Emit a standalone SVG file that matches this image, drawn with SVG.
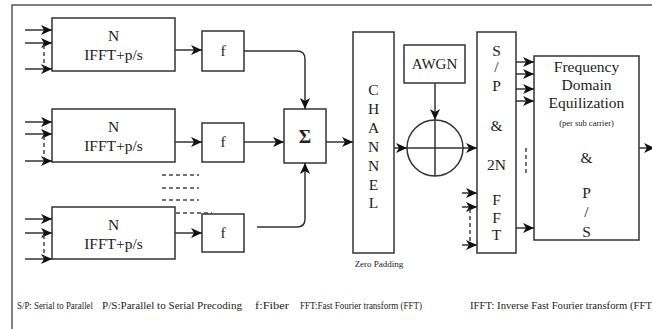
<svg xmlns="http://www.w3.org/2000/svg" width="652" height="329" viewBox="0 0 652 329">
<style>
.box{fill:#fff;stroke:#333;stroke-width:1.5}
.ln{fill:none;stroke:#333;stroke-width:1.5}
.dash{fill:none;stroke:#444;stroke-width:1.5;stroke-dasharray:4,3}
.t{font-family:"Liberation Serif","Times New Roman",serif;fill:#222;text-anchor:middle}
.m{font-size:15.5px}
.s{font-size:15.5px}
.leg{font-family:"Liberation Serif","Times New Roman",serif;font-size:9.5px;fill:#222}
</style>
<defs>
<marker id="ah" markerUnits="userSpaceOnUse" markerWidth="12" markerHeight="10" refX="11" refY="5" orient="auto">
<path d="M0,0 L11,5 L0,10 L3,5 z" fill="#111"/>
</marker>
</defs>
<rect width="652" height="329" fill="#fff"/>
<path d="M12,329 V5 H652" fill="none" stroke="#555" stroke-width="1.5"/>

<g id="ifft1">
<rect class="box" x="52" y="18" width="123" height="53"/>
<text class="t m" x="113.5" y="41">N</text>
<text class="t m" x="113.5" y="60">IFFT+p/s</text>
</g>
<g id="ifft2">
<rect class="box" x="52" y="109" width="123" height="53"/>
<text class="t m" x="113.5" y="132">N</text>
<text class="t m" x="113.5" y="151">IFFT+p/s</text>
</g>
<g id="ifft3">
<rect class="box" x="52" y="207" width="123" height="52"/>
<text class="t m" x="113.5" y="230">N</text>
<text class="t m" x="113.5" y="249">IFFT+p/s</text>
</g>
<g id="f1"><rect class="box" x="202" y="31" width="42" height="40"/><text class="t s" x="223" y="56">f</text></g>
<g id="f2"><rect class="box" x="202" y="123" width="42" height="39"/><text class="t s" x="223" y="147">f</text></g>
<g id="f3"><rect class="box" x="202" y="214" width="42" height="38"/><text class="t s" x="223" y="238">f</text></g>
<g id="sum"><rect class="box" x="284" y="109" width="42" height="54"/><text class="t" x="305" y="143" font-size="19" font-weight="bold">Σ</text></g>
<g id="channel">
<rect class="box" x="353" y="32" width="41" height="221"/>
<text class="t m" x="373.5" y="95">C</text>
<text class="t m" x="373.5" y="114">H</text>
<text class="t m" x="373.5" y="133">A</text>
<text class="t m" x="373.5" y="152">N</text>
<text class="t m" x="373.5" y="171">N</text>
<text class="t m" x="373.5" y="190">E</text>
<text class="t m" x="373.5" y="208">L</text>
<text class="t" x="379" y="267" font-size="9">Zero Padding</text>
</g>
<g id="awgn"><rect class="box" x="404" y="45" width="61" height="38"/><text class="t" x="434.5" y="69" font-size="15">AWGN</text></g>
<g id="adder">
<circle class="ln" cx="435" cy="148" r="28"/>
<line class="ln" x1="435" y1="120" x2="435" y2="176"/>
</g>
<g id="spfft">
<rect class="box" x="477" y="32" width="39" height="221"/>
<text class="t s" x="496.5" y="56">S</text>
<text class="t s" x="496.5" y="72">/</text>
<text class="t s" x="496.5" y="91">P</text>
<text class="t s" x="496.5" y="131">&amp;</text>
<text class="t s" x="496.5" y="170">2N</text>
<text class="t s" x="496.5" y="205">F</text>
<text class="t s" x="496.5" y="223">F</text>
<text class="t s" x="496.5" y="240">T</text>
</g>
<g id="fde">
<rect class="box" x="534" y="56" width="105" height="184"/>
<text class="t m" x="586.5" y="72">Frequency</text>
<text class="t m" x="586.5" y="90">Domain</text>
<text class="t m" x="586.5" y="108">Equilization</text>
<text class="t" x="586.5" y="126" font-size="8.5">(per sub carrier)</text>
<text class="t s" x="586.5" y="163">&amp;</text>
<text class="t s" x="586.5" y="198">P</text>
<text class="t s" x="586.5" y="217">/</text>
<text class="t s" x="586.5" y="237">S</text>
</g>

<g id="connectors">
<path class="ln" marker-end="url(#ah)" d="M25,30 H52"/>
<path class="ln" marker-end="url(#ah)" d="M25,43 H52"/>
<path class="ln" marker-end="url(#ah)" d="M25,69 H52"/>
<path class="dash" d="M44,45 V67"/>
<path class="ln" marker-end="url(#ah)" d="M25,122 H52"/>
<path class="ln" marker-end="url(#ah)" d="M25,134 H52"/>
<path class="ln" marker-end="url(#ah)" d="M25,161 H52"/>
<path class="dash" d="M44,136 V159"/>
<path class="ln" marker-end="url(#ah)" d="M25,219 H52"/>
<path class="ln" marker-end="url(#ah)" d="M25,233 H52"/>
<path class="ln" marker-end="url(#ah)" d="M25,259 H52"/>
<path class="dash" d="M44,235 V257"/>
<path class="ln" marker-end="url(#ah)" d="M175,50 H202"/>
<path class="ln" marker-end="url(#ah)" d="M175,142 H202"/>
<path class="ln" marker-end="url(#ah)" d="M175,233 H202"/>
<path class="dash" d="M162,175 H199 M162,188 H199 M162,200 H199 M176,213 H212"/>
<path class="ln" marker-end="url(#ah)" d="M244,51 H297 Q305,51 305,59 V109"/>
<path class="ln" marker-end="url(#ah)" d="M244,142 H284"/>
<path class="ln" marker-end="url(#ah)" d="M257,227 H297 Q305,227 305,219 V163"/>
<path class="ln" marker-end="url(#ah)" d="M326,142 H353"/>
<path class="ln" marker-end="url(#ah)" d="M394,148 H407"/>
<path class="ln" marker-end="url(#ah)" d="M407,148 H477"/>
<path class="ln" marker-end="url(#ah)" d="M435,83 V120"/>
<path class="ln" marker-end="url(#ah)" d="M462,193 H477"/>
<path class="ln" marker-end="url(#ah)" d="M462,207 H477"/>
<path class="ln" marker-end="url(#ah)" d="M462,245 H477"/>
<path class="dash" d="M470,209 V243"/>
<path class="ln" marker-end="url(#ah)" d="M516,62 H534"/>
<path class="ln" marker-end="url(#ah)" d="M516,74 H534"/>
<path class="ln" marker-end="url(#ah)" d="M516,89 H534"/>
<path class="ln" marker-end="url(#ah)" d="M516,101 H534"/>
<path class="dash" d="M526,148 V176"/>
<path class="ln" marker-end="url(#ah)" d="M516,228 H534"/>
<path class="ln" marker-end="url(#ah)" d="M639,148 H655"/>
</g>

<g id="legend">
<text class="leg" x="17" y="309" textLength="76" lengthAdjust="spacingAndGlyphs">S/P: Serial to Parallel</text>
<text class="leg" x="102" y="309" textLength="140" lengthAdjust="spacingAndGlyphs">P/S:Parallel to Serial Precoding</text>
<text class="leg" x="255" y="309" textLength="34" lengthAdjust="spacingAndGlyphs">f:Fiber</text>
<text class="leg" x="300" y="309" textLength="122" lengthAdjust="spacingAndGlyphs">FFT:Fast Fourier transform (FFT)</text>
<text class="leg" x="470" y="309" textLength="182" lengthAdjust="spacingAndGlyphs">IFFT: Inverse Fast Fourier transform (FFT</text>
</g>
</svg>
